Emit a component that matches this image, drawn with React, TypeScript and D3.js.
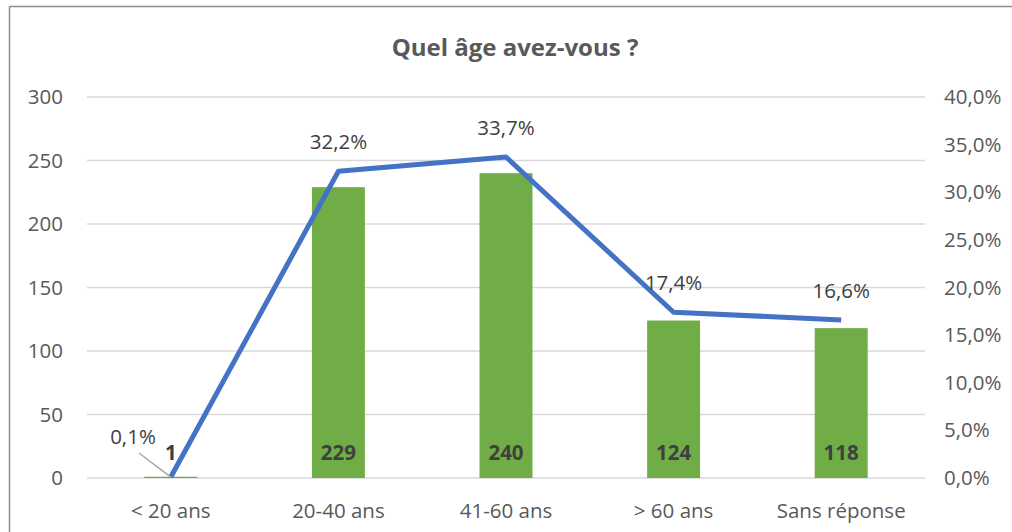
import React from "react";
import * as d3 from "d3";

const categories = ["< 20 ans", "20-40 ans", "41-60 ans", "> 60 ans", "Sans réponse"];
const counts = [1, 229, 240, 124, 118];
const percents = [0.1, 32.2, 33.7, 17.4, 16.6];
const leftTicks = [0, 50, 100, 150, 200, 250, 300];
const rightTicks = [0, 5, 10, 15, 20, 25, 30, 35, 40];

const W = 1012;
const H = 532;
const FONT = "'Open Sans', 'Noto Sans', sans-serif";
const FS = 20.5;

export default function App() {
  const left = 87;
  const right = 925;
  const top = 97;
  const bottom = 478;

  const x = d3.scaleBand<string>().domain(categories).range([left, right]).paddingInner(0.684).paddingOuter(0.342);
  const xc = (c: string) => (x(c) as number) + x.bandwidth() / 2;
  const yL = d3.scaleLinear().domain([0, 300]).range([bottom, top]);
  const yR = d3.scaleLinear().domain([0, 40]).range([bottom, top]);

  const line = d3
    .line<number>()
    .x((_, i) => xc(categories[i]))
    .y((d) => yR(d));

  const fmtPct = (v: number) => v.toFixed(1).replace(".", ",") + "%";

  return (
    <svg width={W} height={H} style={{ position: "absolute", left: 0, top: 0, display: "block" }} fontFamily={FONT}>
      <rect x={0} y={0} width={W} height={H} fill="#fff" />
      <line x1={9.5} y1={6.5} x2={W} y2={6.5} stroke="#8c8c8c" strokeWidth={1.5} />
      <line x1={9.5} y1={6.5} x2={9.5} y2={H} stroke="#8c8c8c" strokeWidth={1.5} />
      <text x={515} y={56} textAnchor="middle" fontSize={24} fontWeight="bold" fill="#595959">
        Quel âge avez-vous ?
      </text>
      {leftTicks.map((t) => (
        <g key={"g" + t}>
          <line x1={left} x2={right} y1={yL(t)} y2={yL(t)} stroke="#d9d9d9" strokeWidth={1.5} />
          <text x={63} y={yL(t) + 7} textAnchor="end" fontSize={FS} fill="#595959">
            {t}
          </text>
        </g>
      ))}
      {rightTicks.map((t) => (
        <text key={"r" + t} x={944} y={yR(t) + 7} textAnchor="start" fontSize={FS} fill="#595959">
          {fmtPct(t)}
        </text>
      ))}
      {categories.map((c, i) => (
        <g key={"b" + c}>
          <rect x={x(c)} y={yL(counts[i])} width={x.bandwidth()} height={yL(0) - yL(counts[i])} fill="#70ad47" />
          <text x={xc(c)} y={518} textAnchor="middle" fontSize={FS} fill="#595959">
            {c}
          </text>
        </g>
      ))}
      <path d={line(percents) as string} fill="none" stroke="#4472c4" strokeWidth={5} strokeLinejoin="round" />
      {categories.map((c, i) =>
        i === 0 ? (
          <g key={"l" + c}>
            <text x={xc(c)} y={yL(0) - 18} textAnchor="middle" fontSize={FS} fontWeight="bold" fill="#404040">
              {counts[i]}
            </text>
            <line x1={139} y1={453} x2={xc(c)} y2={yR(percents[i])} stroke="#a6a6a6" strokeWidth={1.5} />
            <text x={133} y={444} textAnchor="middle" fontSize={FS} fill="#404040">
              {fmtPct(percents[i])}
            </text>
          </g>
        ) : (
          <g key={"l" + c}>
            <text x={xc(c)} y={yL(0) - 18} textAnchor="middle" fontSize={FS} fontWeight="bold" fill="#404040">
              {counts[i]}
            </text>
            <text x={xc(c)} y={yR(percents[i]) - 22} textAnchor="middle" fontSize={FS} fill="#404040">
              {fmtPct(percents[i])}
            </text>
          </g>
        )
      )}
    </svg>
  );
}
